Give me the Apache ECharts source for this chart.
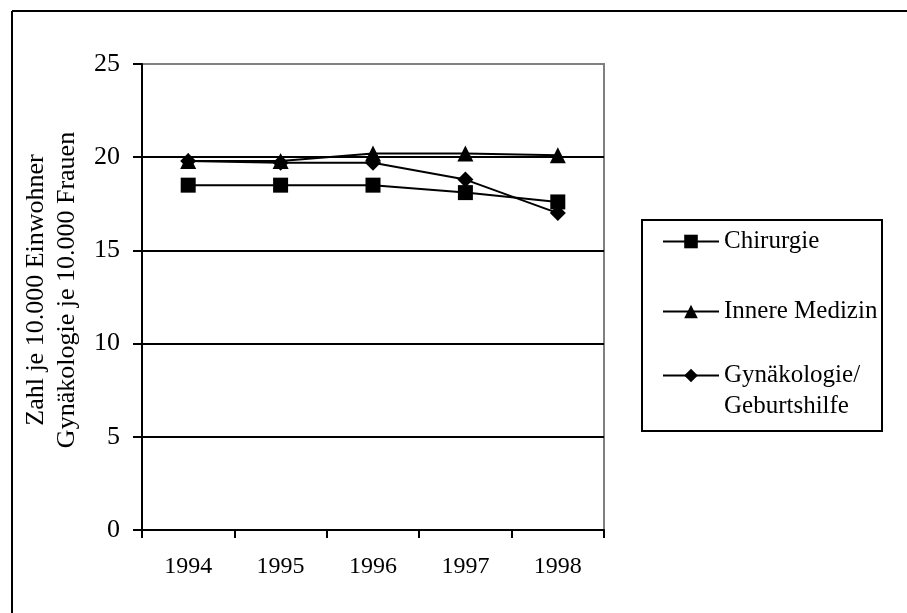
<!DOCTYPE html>
<html>
<head>
<meta charset="utf-8">
<script src="https://cdn.jsdelivr.net/npm/echarts@6/dist/echarts.min.js"></script>
<style>
html,body{margin:0;padding:0;background:#fff;}
#chart{width:907px;height:613px;}
</style>
</head>
<body>
<div id="chart"></div>
<script>
var years = ['1994', '1995', '1996', '1997', '1998'];
var yTicks = [0, 5, 10, 15, 20, 25];
var chirurgie = [18.5, 18.5, 18.5, 18.1, 17.6];
var innereMedizin = [19.8, 19.8, 20.2, 20.2, 20.1];
var gynaekologie = [19.8, 19.7, 19.7, 18.8, 17.0];
var seriesNames = ['Chirurgie', 'Innere Medizin', 'Gynäkologie/\nGeburtshilfe'];
var yAxisName = 'Zahl je 10.000 Einwohner\nGynäkologie je 10.000 Frauen';

var FONT = '"Liberation Serif", "Times New Roman", serif';
var chart = echarts.init(document.getElementById('chart'), null, {renderer: 'canvas'});

function legendItem(name, top, formatter) {
  var l = {
    show: true,
    orient: 'vertical',
    left: 662,
    top: top,
    padding: 0,
    itemWidth: 56,
    itemHeight: 17,
    data: [name],
    selectedMode: false,
    textStyle: {fontFamily: FONT, fontSize: 25, color: '#000', lineHeight: 31},
    inactiveColor: '#000'
  };
  if (formatter) l.formatter = formatter;
  return l;
}

function lineSeries(name, data, symbol, size) {
  return {
    name: name,
    type: 'line',
    data: data,
    symbol: symbol,
    symbolSize: size,
    showAllSymbol: true,
    color: '#000',
    lineStyle: {color: '#000', width: 2},
    itemStyle: {color: '#000'},
    emphasis: {disabled: true},
    animation: false
  };
}

chart.setOption({
  animation: false,
  backgroundColor: '#fff',
  grid: {
    left: 142, right: 303, top: 64, bottom: 83,
    show: true, borderColor: '#808080', borderWidth: 2, backgroundColor: 'transparent'
  },
  legend: [
    legendItem(seriesNames[0], 226),
    legendItem(seriesNames[1], 296),
    legendItem(seriesNames[2], 329, function (n) { return '\n' + n; })
  ],
  xAxis: {
    type: 'category',
    data: years,
    boundaryGap: true,
    axisLine: {lineStyle: {color: '#000', width: 2}},
    axisTick: {show: true, interval: 0, alignWithLabel: false, length: 8, lineStyle: {color: '#000', width: 2}},
    axisLabel: {fontFamily: FONT, fontSize: 24, color: '#000', margin: 25, interval: 0},
    splitLine: {show: false}
  },
  yAxis: {
    type: 'value',
    min: yTicks[0],
    max: yTicks[yTicks.length - 1],
    interval: 5,
    name: yAxisName,
    nameLocation: 'middle',
    nameRotate: 90,
    nameGap: 43,
    nameTextStyle: {fontFamily: FONT, fontSize: 26, color: '#000', lineHeight: 31, align: 'center', padding: [0, 0, 0, 14]},
    axisLine: {show: true, lineStyle: {color: '#000', width: 2}},
    axisTick: {show: true, length: 9, lineStyle: {color: '#000', width: 2}},
    axisLabel: {fontFamily: FONT, fontSize: 26, color: '#000', margin: 22},
    splitLine: {show: true, showMaxLine: false, lineStyle: {color: '#000', width: 2}}
  },
  series: [
    lineSeries(seriesNames[0], chirurgie, 'rect', 15),
    lineSeries(seriesNames[1], innereMedizin, 'triangle', 16),
    lineSeries(seriesNames[2], gynaekologie, 'diamond', 16)
  ],
  graphic: [
    {type: 'line', shape: {x1: 12, y1: 11, x2: 907, y2: 11}, style: {stroke: '#000', lineWidth: 2}, silent: true},
    {type: 'line', shape: {x1: 12, y1: 11, x2: 12, y2: 613}, style: {stroke: '#000', lineWidth: 2}, silent: true},
    {type: 'rect', shape: {x: 642, y: 220, width: 240, height: 211}, style: {fill: 'none', stroke: '#000', lineWidth: 2}, silent: true}
  ]
});
</script>
</body>
</html>
